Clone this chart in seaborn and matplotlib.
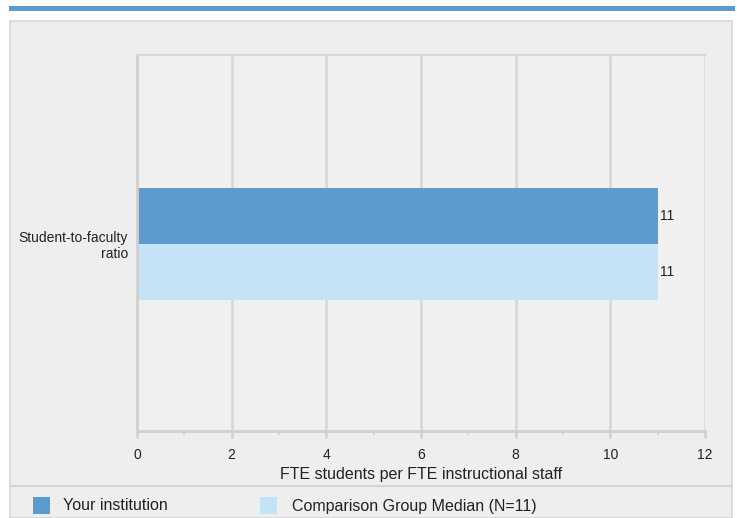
import matplotlib
matplotlib.use("Agg")
import matplotlib.pyplot as plt
import seaborn as sns
import pandas as pd
from matplotlib.patches import Rectangle
from matplotlib.lines import Line2D

categories = ["Student-to-faculty\nratio"]
series_names = ["Your institution", "Comparison Group Median (N=11)"]
your_values = [11]
comparison_values = [11]
x_ticks = [0, 2, 4, 6, 8, 10, 12]
x_label = "FTE students per FTE instructional staff"
colors = ["#5b9bd0", "#c5e3f6"]

df = pd.DataFrame({
    "category": categories * 2,
    "series": [series_names[0]] * len(categories) + [series_names[1]] * len(categories),
    "value": your_values + comparison_values,
})

sns.set_theme(style="white")
plt.rcParams["font.family"] = ["Liberation Sans", "DejaVu Sans"]

W, H = 737, 518
fig = plt.figure(figsize=(W / 100, H / 100), dpi=100)
fig.patch.set_facecolor("white")

def fx(px):
    return px / W

def fy(py):
    return 1 - py / H

# top blue strip
fig.patches.append(Rectangle((fx(9), fy(11)), fx(735) - fx(9), fy(6) - fy(11),
                             transform=fig.transFigure, facecolor="#5b9bd0", edgecolor="none",
                             zorder=-10))
# gray panel
fig.patches.append(Rectangle((fx(10), fy(518)), fx(732) - fx(10), fy(21) - fy(518),
                             transform=fig.transFigure, facecolor="#eeeeee",
                             edgecolor="#d6d6d6", linewidth=1.2, zorder=-10))
# separator line above legend
fig.lines.append(Line2D([fx(10), fx(732)], [fy(486), fy(486)], transform=fig.transFigure,
                        color="#d6d6d6", linewidth=1.5, zorder=-9))

ax = fig.add_axes([fx(137), fy(431), fx(705) - fx(137), fy(55) - fy(431)])
ax.set_facecolor("#f0f0f0")

sns.barplot(data=df, y="category", x="value", hue="series", hue_order=series_names,
            palette=colors, orient="h", width=0.8, ax=ax, legend=False,
            saturation=1, edgecolor="none")

ax.set_xlim(0, 12)
ax.set_ylim(1.34, -1.35)
ax.set_xticks(x_ticks)
ax.set_xticks([1, 3, 5, 7, 9, 11], minor=True)
ax.xaxis.grid(True, color="#d6d6d6", linewidth=1.8)
ax.set_axisbelow(True)
ax.spines["right"].set_visible(False)
ax.spines["top"].set_color("#d6d6d6")
ax.spines["top"].set_linewidth(1.5)
ax.spines["left"].set_color("#d0d0d0")
ax.spines["left"].set_linewidth(2)
ax.spines["bottom"].set_color("#d0d0d0")
ax.spines["bottom"].set_linewidth(2)
ax.tick_params(axis="x", which="major", bottom=True, length=5, width=1.8, color="#d0d0d0",
               labelsize=10, labelcolor="#222222", pad=7)
ax.tick_params(axis="x", which="minor", bottom=True, length=3, width=1.2, color="#d0d0d0")
ax.tick_params(axis="y", left=False, length=0, labelsize=10, labelcolor="#222222", pad=6.5)
for lbl in ax.get_yticklabels():
    lbl.set_horizontalalignment("right")
    lbl.set_multialignment("right")
ax.set_ylabel("")
ax.set_xlabel(x_label, fontsize=11.5, color="#222222", labelpad=4)

for container in ax.containers:
    ax.bar_label(container, fmt="%g", padding=2, fontsize=10, color="#222222")

# legend
legend_items = [(33, 63), (260, 292)]
for (sx, tx), name, c in zip(legend_items, series_names, colors):
    fig.patches.append(Rectangle((fx(sx), fy(514)), fx(17), fy(497) - fy(514),
                                 transform=fig.transFigure, facecolor=c, edgecolor="none"))
    fig.text(fx(tx), fy(506), name, fontsize=11.5, color="#222222", va="center", ha="left")

fig.savefig("out.png", dpi=100, facecolor=fig.get_facecolor())
